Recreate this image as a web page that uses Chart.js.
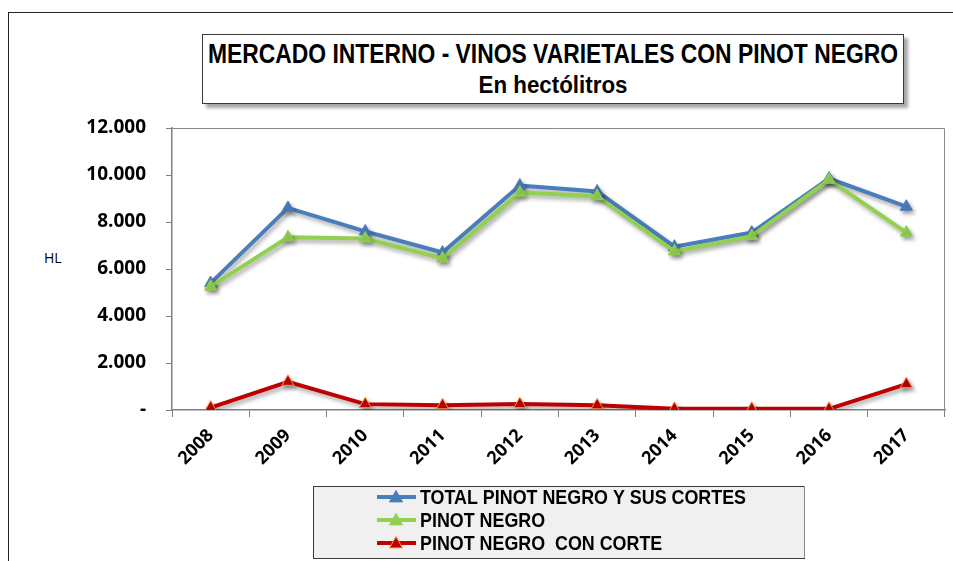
<!DOCTYPE html>
<html>
<head>
<meta charset="utf-8">
<script src="https://cdn.jsdelivr.net/npm/chart.js@4/dist/chart.umd.min.js"></script>
<style>
  html, body { margin:0; padding:0; background:#fff; }
  #wrap { position:relative; width:953px; height:561px; overflow:hidden; background:#fff; }
  #frame { position:absolute; left:8px; top:12px; width:2000px; height:2000px; border-left:1px solid #222; border-top:1px solid #222; }
  #titlebox { position:absolute; left:202px; top:34px; width:700px; height:68px; border:1px solid #3a3a3a; background:#fff;
              box-shadow:4px 4px 3px rgba(0,0,0,0.35); }
  .tline { position:absolute; left:50%; font-family:"Liberation Sans Narrow","Arial Narrow","Liberation Sans",Arial,sans-serif; font-weight:bold; color:#000; white-space:nowrap; transform-origin:center center; transform:translateX(-50%); }
  #hl { position:absolute; left:44px; top:248px; font-family:"Open Sans","Noto Sans",sans-serif; font-size:14px; color:#000; }
  canvas { position:absolute; left:0; top:0; }
</style>
</head>
<body>
<div id="wrap">
  <div id="frame"></div>
  <div id="titlebox">
    <div class="tline" id="t1" style="top:3px;font-size:27px;line-height:32px;">MERCADO INTERNO - VINOS VARIETALES CON PINOT NEGRO</div>
    <div class="tline" id="t2" style="top:36px;font-size:24px;line-height:28px;">En hectólitros</div>
  </div>
  <div id="hl">HL</div>
  <canvas id="c" width="953" height="561"></canvas>
</div>
<script>
// ---- data ----
const categories = ['2008','2009','2010','2011','2012','2013','2014','2015','2016','2017'];
const seriesNames = ['TOTAL PINOT NEGRO Y SUS CORTES', 'PINOT NEGRO', 'PINOT NEGRO  CON CORTE'];
const totalPinot = [5400, 8600, 7600, 6700, 9550, 9300, 6950, 7550, 9850, 8650];
const pinotNegro = [5250, 7350, 7300, 6450, 9250, 9100, 6750, 7400, 9800, 7550];
const pinotCorte = [100, 1200, 250, 200, 250, 200, 50, 50, 50, 1100];
const yTickValues = [0, 2000, 4000, 6000, 8000, 10000, 12000];
const yTickLabels = ['-', '2.000', '4.000', '6.000', '8.000', '10.000', '12.000'];

// fit title widths
function fitLine(id, target) {
  const el = document.getElementById(id);
  const w = el.getBoundingClientRect().width;
  if (w > 0) el.style.transform = 'translateX(-50%) scaleX(' + (target / w) + ')';
}
fitLine('t1', 690);
fitLine('t2', 149);

const shadowPlugin = {
  id: 'shadow',
  beforeDatasetsDraw(chart) {
    const ctx = chart.ctx;
    ctx.save();
    ctx.shadowColor = 'rgba(0,0,0,0.35)';
    ctx.shadowBlur = 4;
    ctx.shadowOffsetX = 2;
    ctx.shadowOffsetY = 3;
  },
  afterDatasetsDraw(chart) { chart.ctx.restore(); }
};

const frameP = {
  id: 'plotframe',
  beforeDatasetsDraw(chart) {
    const ctx = chart.ctx, a = chart.chartArea;
    ctx.save();
    ctx.strokeStyle = '#8a8a8a';
    ctx.lineWidth = 1;
    ctx.beginPath();
    ctx.moveTo(a.left, a.top + 0.5);
    ctx.lineTo(a.right - 0.5, a.top + 0.5);
    ctx.lineTo(a.right - 0.5, a.bottom);
    ctx.stroke();
    ctx.restore();
  }
};

const legendP = {
  id: 'customLegend',
  afterDraw(chart) {
    const ctx = chart.ctx;
    const bx = 313, by = 486, bw = 492, bh = 72;
    ctx.save();
    ctx.fillStyle = '#f0f0f0';
    ctx.fillRect(bx, by, bw, bh);
    ctx.strokeStyle = '#3a3a3a';
    ctx.lineWidth = 1;
    ctx.strokeRect(bx + 0.5, by + 0.5, bw - 1, bh);
    ctx.strokeStyle = '#888';
    ctx.beginPath(); ctx.moveTo(bx + bw - 0.5, by); ctx.lineTo(bx + bw - 0.5, by + bh); ctx.stroke();
    const rows = [497, 520, 543];
    ctx.font = 'bold 20px "Liberation Sans Narrow","Arial Narrow","Liberation Sans",Arial,sans-serif';
    const w0 = ctx.measureText(chart.data.datasets[0].label).width;
    const sx = 326 / w0;
    chart.data.datasets.forEach((ds, i) => {
      const y = rows[i];
      ctx.strokeStyle = ds.borderColor;
      ctx.lineWidth = 4;
      ctx.beginPath(); ctx.moveTo(377, y); ctx.lineTo(416, y); ctx.stroke();
      const r = 6.5;
      ctx.fillStyle = ds.pointBackgroundColor;
      ctx.strokeStyle = ds.pointBorderColor;
      ctx.lineWidth = 1;
      ctx.beginPath();
      ctx.moveTo(396, y - r);
      ctx.lineTo(396 + r, y + r * 0.75);
      ctx.lineTo(396 - r, y + r * 0.75);
      ctx.closePath(); ctx.fill(); ctx.stroke();
      ctx.save();
      ctx.translate(420, y);
      ctx.scale(sx, 1);
      ctx.fillStyle = '#000';
      ctx.textBaseline = 'middle';
      ctx.fillText(ds.label, 0, 1);
      ctx.restore();
    });
    ctx.restore();
  }
};

const ds = (label, data, color, ptFill, ptBorder, order) => ({
  label, data, order,
  borderColor: color, backgroundColor: color,
  borderWidth: 4,
  pointStyle: 'triangle', pointRadius: 7, pointHoverRadius: 7,
  pointBackgroundColor: ptFill, pointBorderColor: ptBorder, pointBorderWidth: 1,
  tension: 0, fill: false
});

new Chart(document.getElementById('c'), {
  type: 'line',
  data: {
    labels: categories,
    datasets: [
      ds(seriesNames[0], totalPinot, '#4a7ebb', '#4a7ebb', '#4a7ebb', 3),
      ds(seriesNames[1], pinotNegro, '#92d050', '#92d050', '#92d050', 2),
      ds(seriesNames[2], pinotCorte, '#c00000', '#c00000', '#f79646', 1)
    ]
  },
  options: {
    responsive: false,
    animation: false,
    devicePixelRatio: 1,
    layout: { padding: { left: 0, top: 128, right: 5, bottom: 0 } },
    plugins: { legend: { display: false }, tooltip: { enabled: false }, title: { display: false } },
    scales: {
      x: {
        type: 'category',
        offset: true,
        afterFit(s) { s.height = 151; },
        grid: { display: true, drawOnChartArea: false, offset: true, tickLength: 7, color: '#7f7f7f', lineWidth: 1 },
        border: { color: '#7f7f7f', width: 1.5 },
        ticks: {
          color: '#000', minRotation: 45, maxRotation: 45, padding: 8,
          font: { family: '"Open Sans","Noto Sans",sans-serif', weight: 'bold', size: 18 }
        }
      },
      y: {
        min: 0, max: 12000,
        afterFit(s) { s.width = 172; },
        afterBuildTicks(s) { s.ticks = yTickValues.map(v => ({ value: v })); },
        grid: { display: true, drawOnChartArea: false, tickLength: 6, color: '#7f7f7f', lineWidth: 1 },
        border: { color: '#7f7f7f', width: 1.5 },
        ticks: {
          color: '#000', padding: 20,
          font: { family: '"Open Sans","Noto Sans",sans-serif', weight: 'bold', size: 19 },
          callback(v) { const i = yTickValues.indexOf(v); return i >= 0 ? yTickLabels[i] : ''; }
        }
      }
    }
  },
  plugins: [frameP, shadowPlugin, legendP]
});
</script>
</body>
</html>
